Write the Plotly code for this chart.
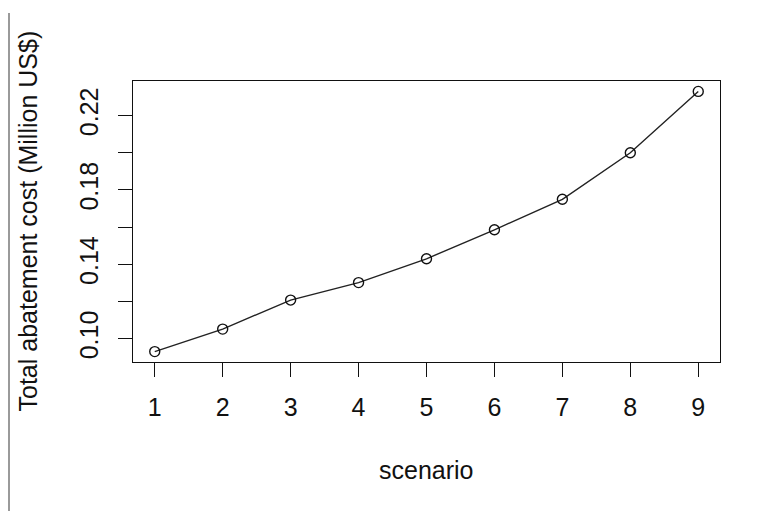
import plotly.graph_objects as go

scenarios = [1, 2, 3, 4, 5, 6, 7, 8, 9]
total_cost = [0.0931, 0.1052, 0.1208, 0.1302, 0.1430, 0.1586, 0.1750, 0.2000, 0.2330]
x_tick_vals = [1, 2, 3, 4, 5, 6, 7, 8, 9]
x_tick_text = ["1", "2", "3", "4", "5", "6", "7", "8", "9"]
y_tick_vals = [0.10, 0.12, 0.14, 0.16, 0.18, 0.20, 0.22]
y_tick_text = ["0.10", "", "0.14", "", "0.18", "", "0.22"]
x_title = "scenario"
y_title = "Total abatement cost (Million US$)"

def r_range(vals):
    lo, hi = min(vals), max(vals)
    pad = (hi - lo) * 0.04
    return [lo - pad, hi + pad]

# page body has an 8px margin; figure occupies page x 8..773, y 8..511
OFF = 8
W, H = 773 - OFF, 511 - OFF
L, R, T, B = 133 - OFF, 53, 81 - OFF, 149
FONT = "Liberation Sans, Arial, sans-serif"
FS = 25

fig = go.Figure()
fig.add_trace(go.Scatter(
    x=scenarios, y=total_cost, mode="lines+markers",
    line=dict(color="#222222", width=1.4),
    marker=dict(symbol="circle-open", size=10, color="#111111", line=dict(width=1.4)),
    showlegend=False, hoverinfo="skip",
))

axis_common = dict(
    showline=True, mirror=True, linecolor="#111111", linewidth=1.4,
    ticks="outside", ticklen=14, tickwidth=1.4, tickcolor="#111111",
    showgrid=False, zeroline=False,
    tickfont=dict(family=FONT, size=FS, color="#111111"),
)

fig.update_xaxes(range=r_range(scenarios), tickmode="array",
                 tickvals=x_tick_vals, ticktext=x_tick_text,
                 ticklabelstandoff=9, **axis_common)
fig.update_yaxes(range=r_range(total_cost), tickmode="array",
                 tickvals=y_tick_vals, ticktext=y_tick_text,
                 tickangle=-90, ticklabelstandoff=10, **axis_common)

pw = W - L - R
ph = H - T - B
fig.add_annotation(text=x_title, xref="paper", yref="paper",
                   x=0.5, y=0, yshift=-(470 - 362), xanchor="center", yanchor="middle",
                   showarrow=False, font=dict(family=FONT, size=FS, color="#111111"))
fig.add_annotation(text=y_title, xref="paper", yref="paper",
                   x=0, y=0.5, xshift=-(133 - 27), xanchor="center", yanchor="middle",
                   textangle=-90, showarrow=False,
                   font=dict(family=FONT, size=FS, color="#111111"))

fig.add_shape(type="line", xref="paper", yref="paper",
              x0=(1 - L) / pw, x1=(1 - L) / pw,
              y0=(H - B - 5) / ph, y1=(H - B - 520) / ph,
              line=dict(color="#9a9a9a", width=2))

fig.update_layout(width=W, height=H, margin=dict(l=L, r=R, t=T, b=B, pad=0),
                  paper_bgcolor="white", plot_bgcolor="white")

fig.write_html("out.html")
